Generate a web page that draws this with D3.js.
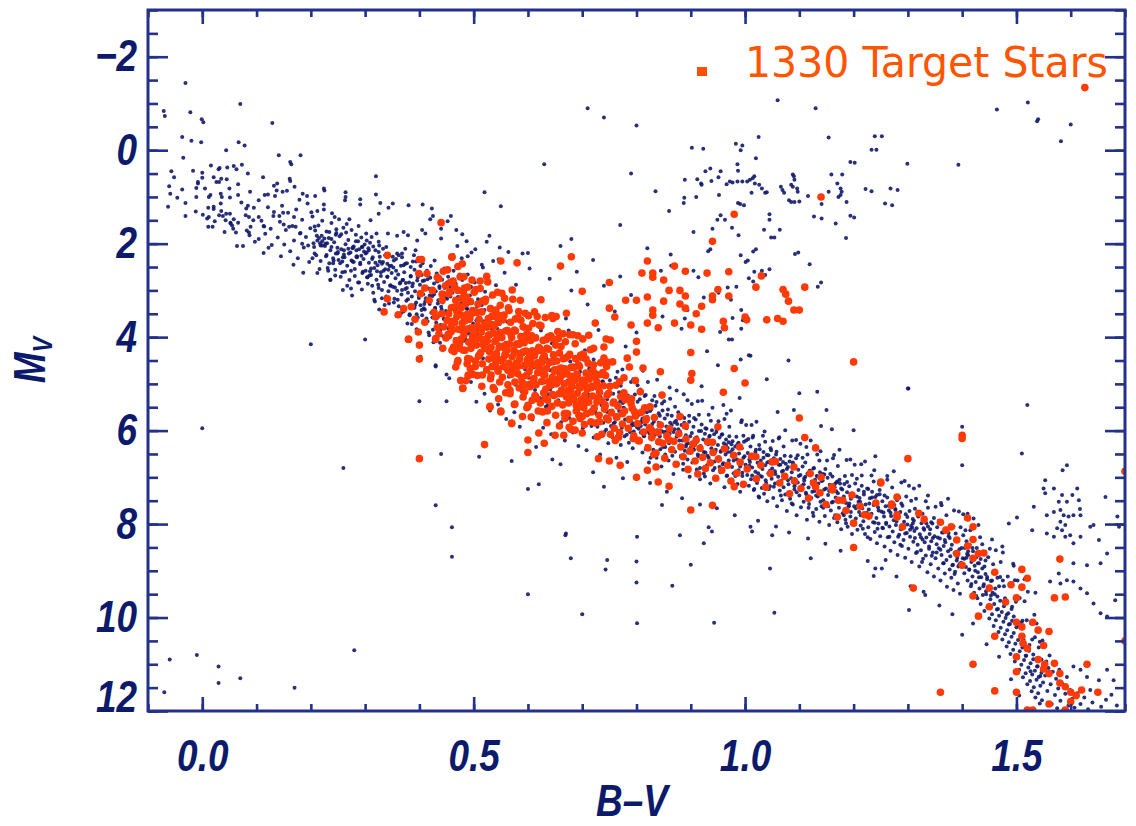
<!DOCTYPE html>
<html>
<head>
<meta charset="utf-8">
<script src="https://cdn.jsdelivr.net/npm/d3@7"></script>
<style>
  body { margin: 0; background: #fff; }
</style>
</head>
<body>
<svg id="chart" width="1136" height="826"></svg>
<script>
// ---- data: [B-V, Mv] pairs ----

// ticks
var xMajorTicks = [0.0, 0.5, 1.0, 1.5];
var yMajorTicks = [-2, 0, 2, 4, 6, 8, 10, 12];
var legendLabel = "1330 Target Stars";

// hot upper main sequence, B-V < 0.2
var blueHot = [[-0.031,-1.44],[-0.071,-0.84],[-0.069,-0.73],[-0.022,-0.81],[-0.001,-0.66],[0.002,-0.6],[0.07,-0.99],[0.129,-0.58],[-0.037,-0.28],[-0.02,-0.2],[-0.002,-0.17],[0.044,0.0],[0.067,-0.17],[0.078,-0.1],[-0.035,0.16],[0.141,0.11],[0.162,0.25],[0.164,0.3],[0.181,0.11],[-0.057,0.45],[-0.017,0.44],[0.0,0.48],[0.032,0.38],[0.03,0.41],[0.046,0.37],[0.058,0.34],[0.063,0.41],[0.073,0.31],[0.084,0.5],[0.0,0.59],[-0.008,0.68],[0.021,0.58],[0.035,0.61],[0.026,0.68],[-0.061,0.77],[-0.059,0.93],[-0.037,0.84],[-0.011,0.81],[-0.008,0.71],[0.05,0.82],[-0.063,1.21],[-0.031,1.13],[-0.031,1.41],[-0.011,1.0],[0.012,1.0],[0.015,0.96],[0.034,0.93],[0.036,1.0],[0.051,1.01],[0.066,0.96],[0.011,1.23],[0.021,1.26],[0.001,1.38],[0.009,1.46],[0.011,1.64],[0.019,1.64],[0.034,1.14],[0.035,1.3],[0.038,1.41],[0.051,1.36],[0.052,1.55],[0.058,1.48],[0.062,1.76],[0.041,1.75],[0.064,2.05],[0.075,2.05],[0.08,1.39],[0.084,1.19],[0.081,1.25],[0.094,1.5],[0.104,1.9],[0.113,1.62],[0.086,1.76],[0.087,1.82],[0.113,2.2],[0.122,2.09],[0.115,0.96],[0.121,0.95],[0.132,0.76],[0.137,0.86],[0.148,0.89],[0.161,0.61],[0.162,0.66],[0.17,0.78],[0.185,0.93],[0.193,0.98],[0.208,0.98],[0.225,0.86],[0.224,0.82],[0.264,0.9],[0.264,1.0],[0.263,1.07],[0.291,1.05],[0.291,1.16],[0.32,0.56],[0.32,0.95],[0.328,1.13],[0.343,1.23],[0.351,1.14],[0.325,1.36],[0.38,1.18],[0.406,1.16],[0.423,1.25],[0.425,1.41],[0.42,1.48],[0.458,1.41],[0.44,1.68],[0.44,1.89],[0.479,1.8],[0.31,1.5],[0.325,1.96],[0.303,1.93],[0.294,2.07],[0.277,2.1],[0.284,2.14],[0.342,1.78],[0.359,1.83],[0.371,1.75],[0.379,1.82],[0.396,1.93],[0.405,1.71],[0.411,1.78],[0.259,2.99],[0.236,2.78],
[0.021,1.21],[0.012,1.43],[0.031,1.39],[0.044,1.36],[0.052,1.57],[0.055,1.61],[0.066,1.55],[0.043,1.5],[0.086,1.43],[0.089,1.64],[0.104,1.43],[0.114,1.63],[0.132,1.32],[0.142,1.41],[0.149,1.34],[0.15,1.59],[0.16,1.64],[0.169,1.43],[0.172,1.64],[0.181,1.77],[0.184,2.0],[0.195,2.04],
[0.121,1.22],[0.126,1.68],[0.131,1.41],[0.134,0.98],[0.139,1.87],[0.143,1.53],[0.147,1.19],[0.151,2.02],[0.154,1.71],[0.158,1.34],[0.162,2.16],[0.166,1.62],[0.169,1.93],[0.173,1.27],[0.176,2.31],[0.18,1.78],[0.184,1.49],[0.187,2.08],[0.191,1.86],[0.194,1.14],[0.197,2.39],[0.199,1.67],[0.128,2.03],[0.145,2.27],[0.168,2.45],[0.186,2.62],[0.104,1.07],[0.109,1.51],[0.116,1.79],[0.095,1.23],[0.088,0.89],[0.072,1.12],[0.066,0.73],[0.057,1.68],[0.045,0.62],[0.023,1.52],[0.016,0.33],[-0.012,1.31],[-0.046,1.02],[-0.052,0.58],[0.005,0.82],[0.031,0.68],[0.082,1.72],[0.097,1.96],[0.138,0.71],[0.156,0.87],[0.179,1.06],[0.112,0.58]];

// upper main sequence, 0.2 - 0.45
var blueUpperMS = [[0.206,2.07],[0.212,1.93],[0.221,2.04],[0.23,1.99],[0.238,2.07],[0.246,2.21],[0.25,2.18],[0.261,2.14],[0.27,2.21],[0.275,2.36],[0.285,2.29],[0.295,2.07],[0.301,2.21],[0.307,2.14],[0.314,2.29],[0.325,2.18],[0.331,2.43],[0.341,2.43],[0.353,2.36],[0.359,2.21],[0.368,2.29],[0.374,2.43],[0.384,2.5],[0.39,2.25],[0.393,2.14],
[0.203,1.42],[0.207,2.21],[0.211,1.83],[0.214,1.61],[0.218,2.37],[0.221,1.95],[0.224,1.27],[0.226,2.05],[0.229,1.74],[0.231,2.52],[0.233,1.88],[0.236,2.14],[0.238,1.56],[0.241,2.31],[0.243,1.97],[0.245,2.68],[0.247,1.69],[0.249,2.09],[0.212,2.63],[0.239,1.35],[0.217,1.99],[0.234,2.42],[0.246,1.81],[0.208,1.72],[0.228,2.27],
[0.251,2.35],[0.253,1.84],[0.256,2.12],[0.258,2.61],[0.26,1.66],[0.262,2.29],[0.264,2.01],[0.267,2.47],[0.269,1.92],[0.271,2.78],[0.273,2.19],[0.275,1.71],[0.277,2.38],[0.279,2.06],[0.281,2.54],[0.283,1.95],[0.285,2.27],[0.287,2.83],[0.289,2.12],[0.291,2.44],[0.293,1.87],[0.295,2.63],[0.297,2.33],[0.299,2.02],[0.255,2.71],[0.266,1.58],[0.274,2.96],[0.288,1.62],
[0.301,2.58],[0.303,2.19],[0.305,2.86],[0.307,2.41],[0.309,1.98],[0.311,2.67],[0.313,2.33],[0.315,3.05],[0.317,2.52],[0.319,2.14],[0.321,2.77],[0.323,2.46],[0.325,2.95],[0.327,2.28],[0.329,2.61],[0.331,3.17],[0.333,2.39],[0.335,2.82],[0.337,2.55],[0.339,2.07],[0.341,2.71],[0.343,3.02],[0.345,2.48],[0.347,2.89],[0.349,2.63],[0.304,2.72],[0.312,1.86],[0.318,3.24],[0.326,2.04],[0.336,3.31],[0.344,2.24],[0.322,2.59],
[0.351,2.92],[0.352,2.51],[0.354,3.18],[0.356,2.74],[0.357,2.33],[0.359,3.01],[0.361,2.66],[0.362,3.34],[0.364,2.85],[0.366,2.47],[0.367,3.09],[0.369,2.78],[0.371,3.45],[0.372,2.61],[0.374,2.97],[0.376,3.22],[0.377,2.42],[0.379,3.05],[0.381,2.83],[0.382,3.51],[0.384,2.69],[0.386,3.13],[0.387,2.91],[0.389,3.37],[0.391,2.56],[0.392,3.02],[0.394,3.26],[0.396,2.79],[0.397,3.58],[0.399,3.11],[0.358,3.55],[0.368,2.21],[0.378,3.71],[0.388,2.38],[0.395,3.83],
[0.401,2.88],[0.402,3.32],[0.404,2.67],[0.405,3.53],[0.407,3.08],[0.409,2.79],[0.41,3.41],[0.412,3.17],[0.414,2.58],[0.415,3.66],[0.417,2.96],[0.419,3.29],[0.42,2.73],[0.422,3.48],[0.424,3.12],[0.425,3.84],[0.427,2.85],[0.429,3.37],[0.43,3.02],[0.432,2.64],[0.434,3.57],[0.435,3.21],[0.437,2.91],[0.439,3.74],[0.44,3.35],[0.442,2.77],[0.444,3.08],[0.445,3.61],[0.447,2.95],[0.449,3.44],[0.406,2.42],[0.418,3.96],[0.428,2.36],[0.438,4.12],[0.446,2.53]];

// turnoff region, 0.45 - 0.6
var blueTurnoff = [[0.451,3.18],[0.453,2.71],[0.455,3.46],[0.457,2.94],[0.459,3.72],[0.461,3.05],[0.463,2.58],[0.465,3.33],[0.467,2.86],[0.469,3.61],[0.471,3.14],[0.473,2.49],[0.475,3.88],[0.477,3.27],[0.479,2.78],[0.481,3.52],[0.483,3.01],[0.485,4.05],[0.487,3.38],[0.489,2.66],[0.491,3.79],[0.493,3.11],[0.495,2.92],[0.497,4.21],[0.499,3.47],[0.502,2.83],[0.505,3.64],[0.508,3.19],[0.511,4.33],[0.514,2.97],[0.517,3.85],[0.52,3.42],[0.523,2.74],[0.526,4.08],[0.529,3.56],[0.532,3.13],[0.535,4.47],[0.538,3.71],[0.541,2.89],[0.544,4.26],[0.547,3.35],[0.55,3.94],[0.553,4.61],[0.556,3.18],[0.559,4.12],[0.562,3.67],[0.565,4.85],[0.568,3.43],[0.571,4.38],[0.574,3.91],[0.577,5.02],[0.58,3.58],[0.583,4.54],[0.586,4.1],[0.589,5.17],[0.592,3.82],[0.595,4.69],[0.598,4.27],[0.462,2.24],[0.478,2.31],[0.496,2.19],[0.515,2.45],[0.536,2.37],[0.557,2.62],[0.578,2.88],[0.524,1.96],[0.548,2.08],[0.603,2.53],[0.59,2.21],
[0.402,4.42],[0.43,4.63],[0.455,4.88],[0.48,5.12],[0.505,5.38],[0.53,5.57],[0.56,5.75],[0.585,5.92],[0.47,4.55],[0.495,4.96],[0.52,5.21],[0.545,5.44],[0.575,5.61],
[0.452,1.52],[0.468,1.71],[0.487,1.95],[0.503,2.12],[0.529,1.83],[0.546,2.34],[0.564,2.18],[0.489,2.27],[0.517,2.51],[0.47,2.05],
[0.66,2.05],[0.69,2.6],[0.72,2.35],[0.74,2.9],[0.77,2.7],[0.79,3.1],[0.71,3.3],[0.68,3.0],[0.64,2.75],[0.62,3.2],[0.76,3.45],[0.73,3.85],[0.67,3.6],[0.7,4.0],[0.78,4.2],[0.8,3.9]];

// main sequence, 0.6 - 1.0
var blueMidMS = [[0.601,4.87],[0.603,5.42],[0.606,4.31],[0.608,5.76],[0.611,4.65],[0.613,5.13],[0.616,3.98],[0.618,5.58],[0.621,4.79],[0.623,5.31],[0.626,4.42],[0.628,5.94],[0.631,4.97],[0.633,5.49],[0.636,4.23],[0.638,5.22],[0.641,4.71],[0.643,6.08],[0.646,5.05],[0.648,4.56],[0.651,5.67],[0.653,4.89],[0.656,5.35],[0.658,4.37],[0.661,5.82],[0.663,5.14],[0.666,4.68],[0.668,6.21],[0.671,5.41],[0.673,4.93],[0.676,5.73],[0.678,4.52],[0.681,5.26],[0.683,6.04],[0.686,4.81],[0.688,5.57],[0.691,5.09],[0.693,6.33],[0.696,4.74],[0.698,5.48],[0.701,5.95],[0.703,4.98],[0.706,5.36],[0.708,6.42],[0.711,5.13],[0.713,4.67],[0.716,5.81],[0.718,5.29],[0.721,6.15],[0.723,4.89],[0.726,5.64],[0.728,5.92],[0.731,5.21],[0.733,6.51],[0.736,5.46],[0.738,4.95],[0.741,6.03],[0.743,5.72],[0.746,5.33],[0.748,6.27],[0.751,5.58],[0.753,5.08],[0.756,6.14],[0.758,5.85],[0.761,5.37],[0.763,6.58],[0.766,5.69],[0.768,5.18],[0.771,6.31],[0.773,5.94],[0.776,5.51],[0.778,6.12],[0.781,5.27],[0.783,6.67],[0.786,5.79],[0.788,6.03],[0.791,5.43],[0.793,6.38],[0.796,5.88],[0.798,5.61],[0.615,6.35],[0.645,6.62],[0.675,3.86],[0.705,4.28],[0.735,4.51],[0.765,4.74],[0.79,4.96],[0.66,6.72],[0.72,6.89],[0.775,7.02],
[0.801,5.93],[0.802,5.38],[0.804,6.21],[0.805,5.66],[0.807,5.12],[0.808,6.04],[0.81,5.79],[0.811,6.47],[0.813,5.51],[0.814,6.12],[0.816,5.87],[0.817,5.24],[0.819,6.33],[0.82,5.71],[0.822,6.02],[0.823,6.68],[0.825,5.58],[0.826,6.15],[0.828,5.93],[0.829,5.35],[0.831,6.41],[0.832,5.81],[0.834,6.09],[0.835,5.47],[0.837,6.58],[0.838,5.99],[0.84,6.26],[0.841,5.63],[0.843,6.12],[0.844,5.89],[0.846,6.77],[0.847,5.42],[0.849,6.35],[0.85,6.03],[0.852,5.74],[0.853,6.51],[0.855,5.91],[0.856,6.18],[0.858,5.55],[0.859,6.64],[0.861,6.07],[0.862,5.83],[0.864,6.39],[0.865,5.68],[0.867,6.24],[0.868,6.93],[0.87,5.97],[0.871,6.45],[0.873,5.79],[0.874,6.13],[0.876,6.71],[0.877,5.61],[0.879,6.32],[0.88,6.02],[0.882,6.56],[0.883,5.88],[0.885,6.21],[0.886,6.84],[0.888,5.73],[0.889,6.43],[0.891,6.1],[0.892,5.95],[0.894,6.62],[0.895,6.27],[0.897,5.81],[0.898,6.99],[0.9,6.36],[0.902,6.05],[0.903,6.68],[0.905,5.92],[0.906,6.41],[0.908,6.17],[0.909,5.76],[0.911,6.83],[0.912,6.24],[0.914,6.55],[0.915,6.01],[0.917,7.04],[0.918,6.33],[0.92,5.87],[0.921,6.61],[0.923,6.19],[0.924,6.92],[0.926,6.07],[0.927,6.47],[0.929,5.96],[0.93,6.74],[0.932,6.29],[0.933,6.58],[0.935,6.11],[0.936,7.13],[0.938,6.38],[0.939,5.99],[0.941,6.85],[0.942,6.22],[0.944,6.66],[0.945,6.44],[0.947,6.03],[0.948,7.02],[0.95,6.31],[0.952,6.57],[0.953,6.15],[0.955,6.89],[0.956,6.43],[0.958,6.08],[0.959,6.72],[0.961,6.27],[0.962,7.21],[0.964,6.51],[0.965,6.19],[0.967,6.96],[0.968,6.37],[0.97,6.64],[0.971,6.12],[0.973,7.08],[0.974,6.46],[0.976,6.78],[0.977,6.23],[0.979,6.91],[0.98,6.55],[0.982,6.34],[0.983,7.17],[0.985,6.62],[0.986,6.29],[0.988,6.85],[0.989,6.49],[0.991,7.31],[0.992,6.71],[0.994,6.38],[0.995,6.97],[0.997,6.58],[0.998,6.24],
[0.812,4.72],[0.838,4.91],[0.861,5.08],[0.887,5.22],[0.913,5.37],[0.94,5.51],[0.966,5.64],[0.993,5.82],[0.825,7.12],[0.856,7.31],[0.884,7.45],[0.917,7.58],[0.948,7.66],[0.981,7.81]];

// main sequence, 1.0 - 1.4
var blueLowerMS = [[1.001,6.73],[1.002,6.21],[1.004,6.95],[1.005,6.48],[1.007,7.18],[1.008,6.62],[1.01,6.34],[1.011,7.04],[1.013,6.79],[1.014,6.15],[1.016,7.27],[1.017,6.56],[1.019,6.88],[1.02,6.41],[1.022,7.12],[1.023,6.69],[1.025,7.41],[1.026,6.31],[1.028,6.97],[1.029,6.64],[1.031,7.23],[1.032,6.82],[1.034,6.46],[1.035,7.35],[1.037,6.74],[1.038,7.06],[1.04,6.52],[1.041,7.51],[1.043,6.91],[1.044,6.67],[1.046,7.19],[1.047,6.38],[1.049,7.03],[1.05,6.81],[1.052,7.44],[1.053,6.59],[1.055,7.13],[1.056,6.93],[1.058,6.45],[1.059,7.62],[1.061,6.99],[1.062,6.73],[1.064,7.28],[1.065,6.61],[1.067,7.08],[1.068,7.49],[1.07,6.86],[1.071,7.21],[1.073,6.54],[1.074,7.37],[1.076,6.97],[1.077,7.72],[1.079,6.78],[1.08,7.15],[1.082,6.66],[1.083,7.46],[1.085,7.02],[1.086,6.89],[1.088,7.58],[1.089,6.72],[1.091,7.26],[1.092,7.04],[1.094,6.59],[1.095,7.81],[1.097,7.11],[1.098,6.84],[1.1,7.39],[1.102,6.95],[1.103,7.64],[1.105,7.18],[1.106,6.77],[1.108,7.52],[1.109,7.02],[1.111,6.68],[1.112,7.33],[1.114,7.91],[1.115,6.92],[1.117,7.22],[1.118,7.57],[1.12,6.86],[1.122,7.44],[1.123,7.09],[1.125,7.76],[1.126,6.81],[1.128,7.29],[1.129,7.05],[1.131,7.68],[1.132,6.97],[1.134,7.41],[1.135,7.13],[1.137,7.95],[1.138,6.89],[1.14,7.36],[1.141,7.62],[1.143,7.07],[1.144,7.49],[1.146,6.94],[1.147,7.83],[1.149,7.24],[1.15,7.56],[1.152,7.01],[1.153,7.38],[1.155,8.02],[1.156,7.16],[1.158,7.71],[1.159,7.29],[1.161,6.98],[1.162,7.52],[1.164,7.87],[1.165,7.21],[1.167,7.43],[1.168,7.11],[1.17,7.96],[1.171,7.34],[1.173,7.65],[1.174,7.05],[1.176,7.48],[1.177,8.11],[1.179,7.26],[1.18,7.77],[1.182,7.41],[1.183,7.14],[1.185,7.91],[1.186,7.55],[1.188,7.32],[1.189,8.06],[1.191,7.62],[1.192,7.19],[1.194,7.84],[1.195,7.46],[1.197,8.21],[1.198,7.37],
[1.012,5.88],[1.036,6.02],[1.063,6.14],[1.087,6.21],[1.113,6.35],[1.139,6.44],[1.164,6.52],[1.187,6.63],[1.024,7.93],[1.057,8.05],[1.081,8.18],[1.116,8.31],[1.148,8.42],[1.176,8.57],
[1.201,7.62],[1.203,7.13],[1.204,7.88],[1.206,7.41],[1.207,8.12],[1.209,7.27],[1.21,7.74],[1.212,7.52],[1.213,8.03],[1.215,7.18],[1.216,7.66],[1.218,7.94],[1.219,7.37],[1.221,8.21],[1.222,7.58],[1.224,7.81],[1.225,7.24],[1.227,8.07],[1.228,7.69],[1.23,7.45],[1.231,8.32],[1.233,7.78],[1.234,7.31],[1.236,7.96],[1.237,7.59],[1.239,8.17],[1.24,7.42],[1.242,7.87],[1.243,8.41],[1.245,7.64],[1.246,7.99],[1.248,7.36],[1.249,8.26],[1.251,7.73],[1.253,7.51],[1.254,8.09],[1.256,7.84],[1.257,8.48],[1.259,7.62],[1.26,7.97],[1.262,7.43],[1.263,8.28],[1.265,7.71],[1.266,8.05],[1.268,8.57],[1.269,7.83],[1.271,7.56],[1.272,8.16],[1.274,7.92],[1.275,8.39],[1.277,7.68],[1.278,8.02],[1.28,7.49],[1.281,8.66],[1.283,7.86],[1.284,8.23],[1.286,7.74],[1.287,8.11],[1.289,8.47],[1.29,7.61],[1.292,8.34],[1.293,7.95],[1.295,8.72],[1.296,7.79],[1.298,8.19],[1.299,8.01],[1.301,8.53],[1.303,7.72],[1.304,8.27],[1.306,8.04],[1.307,8.81],[1.309,7.89],[1.31,8.38],[1.312,8.15],[1.313,7.67],[1.315,8.62],[1.316,8.09],[1.318,8.44],[1.319,7.84],[1.321,8.91],[1.322,8.22],[1.324,8.56],[1.325,7.98],[1.327,8.33],[1.328,8.74],[1.33,8.12],[1.331,7.91],[1.333,8.67],[1.334,8.29],[1.336,9.03],[1.337,8.05],[1.339,8.48],[1.34,8.21],[1.342,8.86],[1.343,8.37],[1.345,7.99],[1.346,8.61],[1.348,9.12],[1.349,8.26],[1.351,8.73],[1.353,8.43],[1.354,8.07],[1.356,8.95],[1.357,8.52],[1.359,8.31],[1.36,9.21],[1.362,8.66],[1.363,8.18],[1.365,8.84],[1.366,8.47],[1.368,9.06],[1.369,8.39],[1.371,8.77],[1.372,9.34],[1.374,8.58],[1.375,8.26],[1.377,8.97],[1.378,8.69],[1.38,9.15],[1.381,8.44],[1.383,8.87],[1.384,9.41],[1.386,8.62],[1.387,9.02],[1.389,8.35],[1.39,8.78],[1.392,9.27],[1.393,8.91],[1.395,8.54],[1.396,9.49],[1.398,8.83],
[1.214,6.72],[1.238,6.85],[1.262,6.97],[1.288,7.11],[1.311,7.24],[1.337,7.39],[1.361,7.55],[1.385,7.71],[1.226,8.79],[1.252,8.95],[1.279,9.12],[1.305,9.33],[1.332,9.52],[1.358,9.74],[1.382,9.93]];

// more stars filling the band, 0.2 - 1.55
var blueBandFill = [[0.212,1.3],[0.241,2.42],[0.225,1.89],[0.203,2.31],[0.247,1.77],[0.218,2.04],[0.236,2.77],[0.207,1.63],[0.229,2.24],[0.244,1.43],[0.215,1.88],[0.232,2.58],[0.221,1.51],[0.249,2.21],[0.21,2.25],[0.238,1.9],[0.224,1.16],[0.205,1.99],[0.242,2.36],[0.216,2.54],[0.234,1.75],[0.227,2.0],[0.201,1.33],[0.245,2.56],[0.22,1.83],
[0.287,1.95],[0.258,2.38],[0.294,2.98],[0.269,2.11],[0.279,2.39],[0.252,1.48],[0.298,2.17],[0.263,2.6],[0.283,1.81],[0.274,2.58],[0.291,2.41],[0.256,1.8],[0.267,2.9],[0.296,2.6],[0.277,2.08],[0.261,2.23],[0.289,2.83],[0.271,1.48],[0.254,2.42],[0.284,2.28],[0.265,1.76],[0.293,2.26],[0.276,3.11],[0.259,2.29],[0.281,2.69],
[0.337,2.25],[0.308,2.68],[0.344,3.28],[0.319,2.41],[0.329,2.69],[0.302,1.78],[0.348,2.47],[0.313,2.9],[0.333,2.11],[0.324,2.88],[0.341,2.71],[0.306,2.1],[0.317,3.2],[0.346,2.9],[0.327,2.38],[0.311,2.53],[0.339,3.13],[0.321,1.78],[0.304,2.72],[0.334,2.58],[0.315,2.06],[0.343,2.56],[0.326,3.41],[0.309,2.59],[0.331,2.99],
[0.362,2.25],[0.391,3.37],[0.375,2.84],[0.353,3.26],[0.397,2.72],[0.368,2.99],[0.386,3.72],[0.357,2.58],[0.379,3.19],[0.394,2.38],[0.365,2.83],[0.382,3.53],[0.371,2.46],[0.399,3.16],[0.36,3.2],[0.388,2.85],[0.374,2.11],[0.355,2.94],[0.392,3.31],[0.366,3.49],[0.384,2.7],[0.377,2.95],[0.351,2.28],[0.395,3.51],[0.37,2.78],
[0.437,2.95],[0.408,3.38],[0.444,3.98],[0.419,3.11],[0.429,3.39],[0.402,2.48],[0.448,3.17],[0.413,3.6],[0.433,2.81],[0.424,3.58],[0.441,3.41],[0.406,2.8],[0.417,3.9],[0.446,3.6],[0.427,3.08],[0.411,3.23],[0.439,3.83],[0.421,2.48],[0.404,3.42],[0.434,3.28],[0.415,2.76],[0.443,3.26],[0.426,4.11],[0.409,3.29],[0.431,3.69],
[0.462,2.8],[0.491,3.92],[0.475,3.39],[0.453,3.81],[0.497,3.27],[0.468,3.54],[0.486,4.27],[0.457,3.13],[0.479,3.74],[0.494,2.93],[0.465,3.38],[0.482,4.08],[0.471,3.01],[0.499,3.71],[0.46,3.75],[0.488,3.4],[0.474,2.66],[0.455,3.49],[0.492,3.86],[0.466,4.04],[0.484,3.25],[0.477,3.5],[0.451,2.83],[0.495,4.06],[0.47,3.33],
[0.537,3.5],[0.508,3.93],[0.544,4.53],[0.519,3.66],[0.529,3.94],[0.502,3.03],[0.548,3.72],[0.513,4.15],[0.533,3.36],[0.524,4.13],[0.541,3.96],[0.506,3.35],[0.517,4.45],[0.546,4.15],[0.527,3.63],[0.511,3.78],[0.539,4.38],[0.521,3.03],[0.504,3.97],[0.534,3.83],[0.515,3.31],[0.543,3.81],[0.526,4.66],[0.509,3.84],[0.531,4.24],
[0.612,4.0],[0.641,5.12],[0.625,4.59],[0.603,5.01],[0.647,4.47],[0.618,4.74],[0.636,5.47],[0.607,4.33],[0.629,4.94],[0.644,4.13],[0.615,4.58],[0.632,5.28],[0.621,4.21],[0.649,4.91],[0.61,4.95],[0.638,4.6],[0.624,3.86],[0.605,4.69],[0.642,5.06],[0.616,5.24],[0.634,4.45],[0.627,4.7],[0.601,4.03],[0.645,5.26],[0.62,4.53],
[0.737,4.95],[0.708,5.38],[0.744,5.98],[0.719,5.11],[0.729,5.39],[0.702,4.48],[0.748,5.17],[0.713,5.6],[0.733,4.81],[0.724,5.58],[0.741,5.41],[0.706,4.8],[0.717,5.9],[0.746,5.6],[0.727,5.08],[0.711,5.23],[0.739,5.83],[0.721,4.48],[0.704,5.42],[0.734,5.28],[0.715,4.76],[0.743,5.26],[0.726,6.11],[0.709,5.29],[0.731,5.69],
[0.762,4.87],[0.791,5.89],[0.775,5.41],[0.753,5.9],[0.797,5.23],[0.768,5.58],[0.786,6.26],[0.757,5.21],[0.779,5.76],[0.794,4.9],[0.765,5.43],[0.782,6.09],[0.771,5.04],[0.799,5.67],[0.76,5.82],[0.788,5.38],[0.774,4.69],[0.755,5.57],[0.792,5.84],[0.766,6.09],[0.784,5.25],[0.777,5.52],[0.751,4.92],[0.795,6.02],[0.77,5.37],
[0.837,5.39],[0.808,5.9],[0.844,6.4],[0.819,5.61],[0.829,5.86],[0.802,5.03],[0.848,5.57],[0.813,6.11],[0.833,5.26],[0.824,6.06],[0.841,5.83],[0.806,5.33],[0.817,6.4],[0.846,6.01],[0.827,5.55],[0.811,5.74],[0.839,6.27],[0.821,4.96],[0.804,5.96],[0.834,5.73],[0.815,5.26],[0.843,5.68],[0.826,6.58],[0.809,5.82],[0.831,6.14],
[0.862,5.32],[0.891,6.34],[0.875,5.86],[0.853,6.35],[0.897,5.68],[0.868,6.03],[0.886,6.71],[0.857,5.66],[0.879,6.21],[0.894,5.35],[0.865,5.88],[0.882,6.54],[0.871,5.49],[0.899,6.12],[0.86,6.27],[0.888,5.83],[0.874,5.14],[0.855,6.02],[0.892,6.29],[0.866,6.54],[0.884,5.7],[0.877,5.97],[0.851,5.37],[0.895,6.47],[0.87,5.82],
[0.937,5.79],[0.908,6.3],[0.944,6.8],[0.919,6.01],[0.929,6.26],[0.902,5.43],[0.948,5.97],[0.913,6.51],[0.933,5.66],[0.924,6.46],[0.941,6.23],[0.906,5.73],[0.917,6.8],[0.946,6.41],[0.927,5.95],[0.911,6.14],[0.939,6.67],[0.921,5.36],[0.904,6.36],[0.934,6.13],[0.915,5.66],[0.943,6.08],[0.926,6.98],[0.909,6.22],[0.931,6.54],
[0.962,5.75],[0.991,6.77],[0.975,6.29],[0.953,6.78],[0.997,6.11],[0.968,6.46],[0.986,7.14],[0.957,6.09],[0.979,6.64],[0.994,5.78],[0.965,6.31],[0.982,6.97],[0.971,5.92],[0.999,6.55],[0.96,6.7],[0.988,6.26],[0.974,5.57],[0.955,6.45],[0.992,6.72],[0.966,6.97],[0.984,6.13],[0.977,6.4],[0.951,5.8],[0.995,6.9],[0.97,6.25],
[1.037,6.24],[1.008,6.75],[1.044,7.25],[1.019,6.46],[1.029,6.71],[1.002,5.88],[1.048,6.42],[1.013,6.96],[1.033,6.11],[1.024,6.91],[1.041,6.68],[1.006,6.18],[1.017,7.25],[1.046,6.86],[1.027,6.4],[1.011,6.59],[1.039,7.12],[1.021,5.81],[1.004,6.81],[1.034,6.58],[1.015,6.11],[1.043,6.53],[1.026,7.43],[1.009,6.67],[1.031,6.99],
[1.062,6.17],[1.091,7.19],[1.075,6.71],[1.053,7.2],[1.097,6.53],[1.068,6.88],[1.086,7.56],[1.057,6.51],[1.079,7.06],[1.094,6.2],[1.065,6.73],[1.082,7.39],[1.071,6.34],[1.099,6.97],[1.06,7.12],[1.088,6.68],[1.074,5.99],[1.055,6.87],[1.092,7.14],[1.066,7.39],[1.084,6.55],[1.077,6.82],[1.051,6.22],[1.095,7.32],[1.07,6.67],
[1.137,6.64],[1.108,7.15],[1.144,7.65],[1.119,6.86],[1.129,7.11],[1.102,6.28],[1.148,6.82],[1.113,7.36],[1.133,6.51],[1.124,7.31],[1.141,7.08],[1.106,6.58],[1.117,7.65],[1.146,7.26],[1.127,6.8],[1.111,6.99],[1.139,7.52],[1.121,6.21],[1.104,7.21],[1.134,6.98],[1.115,6.51],[1.143,6.93],[1.126,7.83],[1.109,7.07],[1.131,7.39],
[1.162,6.59],[1.191,7.61],[1.175,7.13],[1.153,7.62],[1.197,6.95],[1.168,7.3],[1.186,7.98],[1.157,6.93],[1.179,7.48],[1.194,6.62],[1.165,7.15],[1.182,7.81],[1.171,6.76],[1.199,7.39],[1.16,7.54],[1.188,7.1],[1.174,6.41],[1.155,7.29],[1.192,7.56],[1.166,7.81],[1.184,6.97],[1.177,7.24],[1.151,6.64],[1.195,7.74],[1.17,7.09],
[1.237,7.09],[1.208,7.6],[1.244,8.1],[1.219,7.31],[1.229,7.56],[1.202,6.73],[1.248,7.27],[1.213,7.81],[1.233,6.96],[1.224,7.76],[1.241,7.53],[1.206,7.03],[1.217,8.1],[1.246,7.71],[1.227,7.25],[1.211,7.44],[1.239,7.97],[1.221,6.66],[1.204,7.66],[1.234,7.43],[1.215,6.96],[1.243,7.38],[1.226,8.28],[1.209,7.52],[1.231,7.84],
[1.262,7.05],[1.291,8.07],[1.275,7.59],[1.253,8.08],[1.297,7.41],[1.268,7.76],[1.286,8.44],[1.257,7.39],[1.279,7.94],[1.294,7.08],[1.265,7.61],[1.282,8.27],[1.271,7.22],[1.299,7.85],[1.26,8.0],[1.288,7.56],[1.274,6.87],[1.255,7.75],[1.292,8.02],[1.266,8.27],[1.284,7.43],[1.277,7.7],[1.251,7.1],[1.295,8.2],[1.27,7.55],
[1.337,7.65],[1.308,8.08],[1.344,8.68],[1.319,7.81],[1.329,8.09],[1.302,7.18],[1.348,7.87],[1.313,8.3],[1.333,7.51],[1.324,8.28],[1.341,8.11],[1.306,7.5],[1.317,8.6],[1.346,8.3],[1.327,7.78],[1.311,7.93],[1.339,8.53],[1.321,7.18],[1.304,8.12],[1.334,7.98],[1.315,7.46],[1.343,7.96],[1.326,8.81],[1.309,7.99],[1.331,8.39],
[1.362,7.6],[1.391,8.72],[1.375,8.19],[1.353,8.61],[1.397,8.07],[1.368,8.34],[1.386,9.07],[1.357,7.93],[1.379,8.54],[1.394,7.73],[1.365,8.18],[1.382,8.88],[1.371,7.81],[1.399,8.51],[1.36,8.55],[1.388,8.2],[1.374,7.46],[1.355,8.29],[1.392,8.66],[1.366,8.84],[1.384,8.05],[1.377,8.3],[1.351,7.63],[1.395,8.86],[1.37,8.13],
[1.437,8.43],[1.408,8.72],[1.444,9.5],[1.419,8.51],[1.429,8.84],[1.402,7.79],[1.448,8.71],[1.413,8.97],[1.433,8.28],[1.424,9.0],[1.441,8.91],[1.406,8.13],[1.417,9.28],[1.446,9.13],[1.427,8.51],[1.411,8.58],[1.439,9.33],[1.421,7.88],[1.404,8.74],[1.434,8.75],[1.415,8.13],[1.443,8.78],[1.426,9.54],[1.409,8.64],[1.431,9.14],
[1.462,8.56],[1.491,9.82],[1.475,9.21],[1.453,9.53],[1.497,9.2],[1.468,9.33],[1.486,10.15],[1.457,8.86],[1.479,9.59],[1.494,8.85],[1.465,9.15],[1.482,9.94],[1.471,8.81],[1.499,9.66],[1.46,9.5],[1.488,9.29],[1.474,8.48],[1.455,9.21],[1.492,9.77],[1.466,9.82],[1.484,9.12],[1.477,9.33],[1.451,8.53],[1.495,9.98],[1.47,9.13],
[1.537,10.13],[1.508,10.18],[1.544,11.25],[1.519,10.06],[1.529,10.47],[1.502,9.21],[1.548,10.49],[1.513,10.47],[1.533,9.94],[1.524,10.59],[1.541,10.64],[1.506,9.58],[1.517,10.82],[1.546,10.9],[1.527,10.13],[1.511,10.07],[1.539,11.04],[1.521,9.45],[1.504,10.17],[1.534,10.42],[1.515,9.65],[1.543,10.52],[1.526,11.15],[1.509,10.11],[1.531,10.79]];

// faint red end, B-V > 1.4, and the pocket off the sequence
var blueRedEnd = [[1.401,8.73],[1.402,8.24],[1.404,9.05],[1.405,8.51],[1.407,8.92],[1.408,8.37],[1.41,9.21],[1.411,8.66],[1.413,8.98],[1.414,8.45],[1.416,9.33],[1.417,8.81],[1.419,9.12],[1.42,8.58],[1.422,9.47],[1.423,8.89],[1.425,9.24],[1.426,8.71],[1.428,9.59],[1.429,9.03],[1.431,8.84],[1.432,9.38],[1.434,9.71],[1.435,9.14],[1.437,8.95],[1.438,9.52],[1.44,9.29],[1.441,9.86],[1.443,9.07],[1.444,9.44],[1.446,9.18],[1.447,9.78],[1.449,9.34],[1.45,10.02],[1.452,9.61],[1.453,9.22],[1.455,9.93],[1.456,9.47],[1.458,10.18],[1.459,9.71],[1.461,9.38],[1.462,10.06],[1.464,9.83],[1.465,9.55],[1.467,10.31],[1.468,9.96],[1.47,9.64],[1.471,10.22],[1.473,9.88],[1.474,10.47],[1.476,10.09],[1.477,9.76],[1.479,10.36],[1.48,10.01],[1.482,10.62],[1.483,10.27],[1.485,9.91],[1.486,10.53],[1.488,10.14],[1.489,10.78],[1.491,10.41],[1.492,10.07],[1.494,10.69],[1.495,10.33],[1.497,10.94],[1.498,10.56],[1.5,10.21],[1.502,10.87],[1.503,10.48],[1.505,11.12],[1.506,10.72],[1.508,10.39],[1.509,11.01],[1.511,10.64],[1.512,11.28],[1.514,10.91],[1.515,10.55],[1.517,11.19],[1.518,10.82],[1.52,11.43],[1.522,11.07],[1.523,10.71],[1.525,11.36],[1.526,10.98],[1.528,11.58],[1.529,11.22],[1.531,10.89],[1.532,11.49],[1.534,11.14],[1.535,11.71],[1.537,11.33],[1.538,11.05],[1.54,11.62],[1.541,11.27],[1.543,11.84],[1.544,11.46],[1.546,11.18],[1.547,11.77],[1.549,11.39],
[1.41,7.78],[1.43,8.02],[1.455,8.33],[1.475,8.61],[1.495,8.89],[1.515,9.18],[1.535,9.47],[1.42,10.13],[1.445,10.57],[1.468,10.84],[1.49,11.32],[1.505,11.67],
[1.551,10.62],[1.553,11.24],[1.555,10.94],[1.557,11.57],[1.559,11.08],[1.561,10.81],[1.563,11.43],[1.565,11.85],[1.567,11.16],[1.569,10.97],[1.571,11.66],[1.573,11.31],[1.575,11.94],[1.577,11.52],[1.579,11.12],[1.581,11.78],[1.584,11.41],[1.587,11.96],[1.59,11.63],[1.593,11.27],[1.596,11.88],[1.599,11.55],[1.603,11.74],[1.607,11.93],[1.612,11.62],[1.618,11.85],[1.625,11.71],[1.632,11.96],[1.64,11.82],[1.648,11.58],[1.656,11.91],[1.665,11.76],[1.675,11.65],[1.685,11.88],
[1.553,7.06],[1.55,7.24],[1.553,7.34],[1.569,7.24],[1.584,7.38],[1.603,7.38],[1.612,7.24],[1.615,7.49],[1.593,7.52],[1.578,7.52],[1.556,7.81],[1.569,7.74],[1.581,7.7],[1.587,7.81],[1.596,7.84],[1.605,7.81],[1.618,7.81],[1.581,7.95],[1.59,8.02],[1.584,8.13],[1.575,8.09],[1.556,8.2],[1.569,8.27],[1.59,8.27],[1.599,8.24],[1.605,8.41],[1.618,8.27],[1.636,8.06],[1.642,8.02],[1.652,8.34],[1.667,8.63],[1.655,8.84],[1.63,8.88],[1.605,8.84],[1.578,9.06],[1.562,9.23],[1.581,9.27],[1.593,9.2],[1.605,9.23],[1.618,9.38],[1.63,9.48],[1.642,9.7],[1.655,9.91],[1.667,9.98],[1.682,9.63],[1.679,11.34],[1.667,11.12],[1.652,11.34],[1.636,11.55],[1.63,11.27],[1.618,11.12],[1.605,11.05],[1.686,7.84],[1.689,8.06],[1.664,7.42],[1.617,7.68],[1.529,8.13],[1.532,7.63],[1.501,7.86],[1.486,7.99]];

// giant clump and subgiant branch
var blueGiants = [[0.835,0.88],[0.889,0.63],[0.912,0.62],[0.919,0.71],[0.92,0.74],[0.927,0.45],[0.936,0.39],[0.938,0.66],[0.951,0.58],[0.955,0.45],[0.966,0.73],[0.972,0.67],[0.977,0.69],[0.986,0.67],[0.995,0.67],[1.004,0.67],[1.009,0.63],[1.014,0.6],[1.017,0.56],[1.018,0.71],[1.026,0.74],[1.031,0.82],[1.012,0.91],[1.037,0.91],[1.04,0.9],[0.983,-0.14],[0.995,-0.1],[0.992,-0.0],[1.025,-0.28],[0.923,-0.03],[0.902,-0.05],[0.986,0.3],[0.987,0.44],[1.02,0.17],[0.888,1.02],[0.887,1.13],[0.91,1.0],[0.952,0.96],[0.987,1.13],[0.991,1.15],[0.998,1.18],[0.955,1.39],[0.949,1.49],[0.963,1.49],[0.976,1.66],[0.905,1.75],[0.94,1.68],[0.988,1.82],[1.035,1.7],[1.045,1.37],[1.045,1.49],[1.064,1.7],[1.048,1.87],[1.054,1.87],[0.932,2.16],[0.936,2.12],[0.992,2.25],[1.001,2.39],[1.005,2.36],[1.015,2.17],[1.02,2.12],[1.092,2.22],[1.098,2.19],[1.119,2.44],[1.134,2.92],[1.14,2.83],[1.031,2.58],[1.045,2.55],[1.037,2.67],[1.017,2.6],[1.007,2.74],[1.015,2.81],[0.984,2.92],[0.968,2.94],[0.914,2.72],[0.863,2.23],[0.864,2.47],[0.845,2.58],[0.905,2.58],[0.924,3.15],[0.951,3.05],[0.974,3.2],[0.993,3.42],[0.977,3.59],[0.961,3.82],[0.996,3.64],[0.993,3.82],[0.889,3.6],[0.894,3.42],[0.848,3.56],[0.883,3.82],
[1.088,0.52],[1.09,0.56],[1.091,0.63],[1.085,0.74],[1.088,0.78],[1.096,0.82],[1.097,0.89],[1.066,0.78],[1.069,0.85],[1.072,0.91],[1.081,1.07],[1.085,1.11],[1.091,1.11],[1.1,1.1],[1.116,0.98],[1.141,1.15],[1.154,0.89],[1.159,0.52],[1.17,0.71],[1.176,0.82],[1.178,0.89],[1.176,0.96],[1.172,1.0],[1.179,0.52],[1.187,1.11],[1.202,0.27],[1.233,0.88],[1.242,-0.01],[1.252,-0.3],[1.154,-0.27],[1.281,0.85],[1.271,1.18],[1.201,1.44],[1.186,1.88],[1.167,1.57],[1.141,1.46],[1.127,1.42],
[1.464,-0.87],[1.521,-1.02],[1.538,-0.62],[1.6,-0.55],[1.582,-0.19],[1.239,-0.3],[1.233,-0.01],[1.299,0.29],[1.393,0.31],[1.222,0.83],[1.268,0.82],[1.258,1.14],[1.194,0.25],[1.194,1.4],[1.06,-1.07],[1.13,-0.9],[1.54,-0.66],[0.8,-0.53]];

// stray stars off the sequences
var blueStray = [[-0.06,10.9],[-0.01,10.8],[0.03,11.05],[0.03,11.4],[0.07,11.3],[0.17,11.5],[-0.07,11.6],[0.28,10.7],[0.0,5.95],[0.26,6.8],[0.2,4.15],[0.3,4.05],[0.4,5.37],[0.45,5.37],[0.44,6.5],[0.51,6.56],[0.57,6.65],[0.43,7.6],[0.46,8.07],[0.46,8.7],[0.6,9.5],[0.6,7.25],[0.62,7.15],[0.67,8.2],[0.43,4.6],[0.45,4.8],
[0.669,8.24],[0.679,8.73],[0.7,9.93],[0.743,8.97],[0.746,8.77],[0.801,8.27],[0.8,8.8],[0.8,9.25],[0.801,10.12],[0.866,9.32],[0.88,8.24],[0.9,8.87],[0.924,8.41],[0.933,8.07],[0.939,8.16],[0.943,10.11],[1.01,8.06],[1.013,8.16],[1.046,8.95],[1.05,8.24],[1.054,9.9],[1.121,8.73],[1.133,5.17],[1.15,5.56],[1.2,5.99],[1.16,5.97],[1.24,6.55],[1.24,8.95],[1.237,9.11],[1.259,8.77],[0.74,7.2],[0.847,7.59],[1.09,5.56],[0.992,4.48],[1.007,4.39],[0.976,4.05],[0.954,3.89],
[1.301,5.1],[1.52,5.45],[1.4,5.92],[1.4,6.74],[1.51,6.49],[1.593,6.74],[1.585,6.85],[1.302,9.84],[1.4,10.37],[1.329,9.45],[1.3,5.1],
[0.55,1.2],[0.63,0.3],[0.71,-0.9],[0.77,1.6],[0.82,2.1],[0.68,1.9],[0.6,2.2],[0.74,-0.7],[0.86,1.3],[0.79,0.5],[0.52,0.9],
[0.93,4.3],[0.97,4.05],[1.01,4.4],[0.95,4.6],[1.04,4.9],[1.08,4.5],[1.1,5.2],[0.99,5.3],[1.06,5.6],[1.14,5.9],[0.92,5.05],[0.96,5.45]];

// target stars: dense core near the turnoff
var redCore = [[0.444,2.59],[0.448,2.90],[0.442,3.08],[0.459,3.37],[0.454,3.50],[0.451,3.64],[0.445,3.78],[0.449,4.02],[0.443,4.24],[0.457,2.83],[0.441,3.50],[0.453,3.94],
[0.475,2.71],[0.462,2.80],[0.471,3.00],[0.478,3.17],[0.467,3.21],[0.473,3.34],[0.463,3.36],[0.476,3.52],[0.469,3.56],[0.479,3.70],[0.465,3.69],[0.472,3.83],[0.461,3.85],[0.477,4.04],[0.468,4.08],[0.474,4.24],[0.464,4.31],[0.471,4.50],
[0.497,2.78],[0.489,2.93],[0.481,3.03],[0.494,3.24],[0.485,3.29],[0.499,3.48],[0.488,3.51],[0.492,3.62],[0.483,3.64],[0.496,3.80],[0.487,3.83],[0.498,3.98],[0.482,3.96],[0.491,4.11],[0.495,4.24],[0.484,4.28],[0.493,4.47],[0.488,4.57],[0.499,4.80],[0.486,4.93],
[0.512,2.80],[0.504,2.98],[0.517,3.22],[0.508,3.29],[0.515,3.46],[0.502,3.47],[0.51,3.62],[0.519,3.76],[0.506,3.76],[0.514,3.89],[0.501,3.89],[0.511,4.03],[0.518,4.17],[0.505,4.17],[0.513,4.33],[0.509,4.41],[0.516,4.57],[0.503,4.63],[0.507,4.82],[0.515,5.05],
[0.526,2.82],[0.535,3.10],[0.522,3.19],[0.531,3.39],[0.538,3.56],[0.527,3.60],[0.533,3.73],[0.523,3.75],[0.536,3.91],[0.529,3.95],[0.539,4.09],[0.525,4.08],[0.532,4.22],[0.521,4.24],[0.537,4.43],[0.528,4.47],[0.534,4.63],[0.524,4.70],[0.531,4.89],[0.538,5.12],
[0.557,3.17],[0.549,3.32],[0.541,3.42],[0.554,3.63],[0.545,3.68],[0.559,3.87],[0.548,3.90],[0.552,4.01],[0.543,4.03],[0.556,4.19],[0.547,4.22],[0.558,4.37],[0.542,4.35],[0.551,4.50],[0.555,4.63],[0.544,4.67],[0.553,4.86],[0.548,4.96],[0.559,5.19],[0.546,5.32],
[0.572,3.19],[0.564,3.37],[0.577,3.61],[0.568,3.68],[0.575,3.85],[0.562,3.86],[0.57,4.01],[0.579,4.15],[0.566,4.15],[0.574,4.28],[0.561,4.28],[0.571,4.42],[0.578,4.56],[0.565,4.56],[0.573,4.72],[0.569,4.80],[0.576,4.96],[0.563,5.02],[0.567,5.21],[0.575,5.44],
[0.586,3.21],[0.595,3.49],[0.582,3.58],[0.591,3.78],[0.598,3.95],[0.587,3.99],[0.593,4.12],[0.583,4.14],[0.596,4.30],[0.589,4.34],[0.599,4.48],[0.585,4.47],[0.592,4.61],[0.581,4.63],[0.597,4.82],[0.588,4.86],[0.594,5.02],[0.584,5.09],[0.591,5.28],[0.598,5.51],
[0.617,3.56],[0.609,3.71],[0.601,3.81],[0.614,4.02],[0.605,4.07],[0.619,4.26],[0.608,4.29],[0.612,4.40],[0.603,4.42],[0.616,4.58],[0.607,4.61],[0.618,4.76],[0.602,4.74],[0.611,4.89],[0.615,5.02],[0.604,5.06],[0.613,5.25],[0.608,5.35],[0.619,5.58],[0.606,5.71],
[0.632,3.58],[0.624,3.76],[0.637,4.00],[0.628,4.07],[0.635,4.24],[0.622,4.25],[0.63,4.40],[0.639,4.54],[0.626,4.54],[0.634,4.67],[0.621,4.67],[0.631,4.81],[0.638,4.95],[0.625,4.95],[0.633,5.11],[0.629,5.19],[0.636,5.35],[0.623,5.41],[0.627,5.60],[0.635,5.83],
[0.646,3.60],[0.655,3.88],[0.642,3.97],[0.651,4.17],[0.658,4.34],[0.647,4.38],[0.653,4.51],[0.643,4.53],[0.656,4.69],[0.649,4.73],[0.659,4.87],[0.645,4.86],[0.652,5.00],[0.641,5.02],[0.657,5.21],[0.648,5.25],[0.654,5.41],[0.644,5.48],[0.651,5.67],[0.658,5.90],
[0.677,3.95],[0.669,4.10],[0.661,4.20],[0.674,4.41],[0.665,4.46],[0.679,4.65],[0.668,4.68],[0.672,4.79],[0.663,4.81],[0.676,4.97],[0.667,5.00],[0.678,5.15],[0.662,5.13],[0.671,5.28],[0.675,5.41],[0.664,5.45],[0.673,5.64],[0.668,5.74],[0.679,5.97],[0.666,6.10],
[0.697,4.39],[0.688,4.46],[0.695,4.63],[0.682,4.64],[0.69,4.79],[0.699,4.93],[0.686,4.93],[0.694,5.06],[0.681,5.06],[0.691,5.20],[0.698,5.34],[0.685,5.34],[0.693,5.50],[0.689,5.58],[0.696,5.74],[0.683,5.80],[0.692,3.97],[0.687,5.99],
[0.702,4.36],[0.711,4.56],[0.718,4.73],[0.707,4.77],[0.713,4.90],[0.703,4.92],[0.716,5.08],[0.709,5.12],[0.719,5.26],[0.705,5.25],[0.712,5.39],[0.701,5.41],[0.717,5.60],[0.708,5.64],[0.704,5.87],[0.715,4.27],
[0.721,4.59],[0.734,4.80],[0.725,4.85],[0.739,5.04],[0.728,5.07],[0.732,5.18],[0.736,5.36],[0.727,5.39],[0.722,5.52],[0.731,5.67],[0.724,5.84],[0.728,6.13],
[0.743,4.82],[0.751,5.05],[0.746,5.24],[0.757,5.41],[0.742,5.48],[0.754,5.62],[0.748,5.77],[0.759,5.95],[0.745,4.63],[0.752,6.08],
[0.762,5.03],[0.771,5.27],[0.766,5.48],[0.778,5.58],[0.764,5.71],[0.774,5.86],[0.769,6.04],[0.777,5.19],[0.761,6.21],
[0.783,5.31],[0.792,5.52],[0.787,5.76],[0.798,5.69],[0.785,5.95],[0.795,6.11],[0.79,5.42]];

// target stars: wider spread of the same clump
var redCoreWide = [[0.487,3.14],[0.458,3.89],[0.494,4.67],[0.469,3.45],[0.479,3.84],[0.452,2.56],[0.498,3.43],[0.463,4.21],[0.483,2.95],[0.474,4.14],[0.491,3.82],[0.456,3.03],[0.467,4.64],[0.496,4.09],[0.477,3.37],[0.461,3.66],[0.489,4.46],[0.471,2.49],[0.454,3.97],[0.484,3.65],[0.465,2.93],[0.493,3.59],[0.476,4.93],[0.459,3.76],[0.481,4.28],
[0.512,2.96],[0.541,4.54],[0.525,3.79],[0.503,4.51],[0.547,3.54],[0.518,4.05],[0.536,5.08],[0.507,3.47],[0.529,4.31],[0.544,3.04],[0.515,3.81],[0.532,4.81],[0.521,3.24],[0.549,4.2],[0.51,4.39],[0.538,3.76],[0.524,2.7],[0.505,4.02],[0.542,4.45],[0.516,4.81],[0.534,3.55],[0.527,3.96],[0.501,3.04],[0.545,4.73],[0.52,3.72],
[0.587,3.64],[0.558,4.39],[0.594,5.17],[0.569,3.95],[0.579,4.34],[0.552,3.06],[0.598,3.93],[0.563,4.71],[0.583,3.45],[0.574,4.64],[0.591,4.32],[0.556,3.53],[0.567,5.14],[0.596,4.59],[0.577,3.87],[0.561,4.16],[0.589,4.96],[0.571,2.99],[0.554,4.47],[0.584,4.15],[0.565,3.43],[0.593,4.09],[0.576,5.43],[0.559,4.26],[0.581,4.78],
[0.612,3.46],[0.641,5.04],[0.625,4.29],[0.603,5.01],[0.647,4.04],[0.618,4.55],[0.636,5.58],[0.607,3.97],[0.629,4.81],[0.644,3.54],[0.615,4.31],[0.632,5.31],[0.621,3.74],[0.649,4.7],[0.61,4.89],[0.638,4.26],[0.624,3.2],[0.605,4.52],[0.642,4.95],[0.616,5.31],[0.634,4.05],[0.627,4.46],[0.601,3.54],[0.645,5.23],[0.62,4.22],
[0.687,4.14],[0.658,4.89],[0.694,5.67],[0.669,4.45],[0.679,4.84],[0.652,3.56],[0.698,4.43],[0.663,5.21],[0.683,3.95],[0.674,5.14],[0.691,4.82],[0.656,4.03],[0.667,5.64],[0.696,5.09],[0.677,4.37],[0.661,4.66],[0.689,5.46],[0.671,3.49],[0.654,4.97],[0.684,4.65],[0.665,3.93],[0.693,4.59],[0.676,5.93],[0.659,4.76],[0.681,5.28],
[0.712,3.96],[0.741,5.54],[0.725,4.79],[0.703,5.51],[0.747,4.54],[0.718,5.05],[0.736,6.08],[0.707,4.47],[0.729,5.31],[0.744,4.04],[0.715,4.81],[0.732,5.81],[0.721,4.24],[0.749,5.2],[0.71,5.39],[0.738,4.76],[0.724,3.7],[0.705,5.02],[0.742,5.45],[0.716,5.81],[0.734,4.55],[0.727,4.96],[0.701,4.04],[0.745,5.73],[0.72,4.72],
[0.787,4.64],[0.758,5.39],[0.794,6.17],[0.769,4.95],[0.779,5.34],[0.752,4.06],[0.798,4.93],[0.763,5.71],[0.783,4.45],[0.774,5.64],[0.791,5.32],[0.756,4.53],[0.767,6.14],[0.796,5.59],[0.777,4.87],
[0.812,4.66],[0.841,6.24],[0.825,5.49],[0.803,6.21],[0.847,5.24],[0.818,5.75],[0.836,6.78],[0.807,5.17],[0.829,6.01],[0.844,4.74],[0.815,5.51],[0.832,6.51]];

// target stars scattered round the core
var redHalo = [[0.4,6.6],[0.52,6.3],[0.57,5.85],[0.6,6.47],[0.6,6.2],[0.62,6.05],[0.63,6.27],[0.65,6.1],[0.53,5.5],[0.55,5.58],[0.59,5.7],[0.6,5.48],[0.38,4.05],[0.4,4.17],[0.4,4.47],[0.43,4.05],[0.46,4.28],[0.47,4.54],[0.49,4.83],[0.48,5.1],
[0.43,4.03],[0.49,4.81],[0.48,5.09],[0.53,5.48],[0.55,5.6],[0.57,5.84],[0.6,5.46],[0.67,5.63],[0.7,5.7],
[0.341,2.25],[0.404,2.34],[0.46,2.29],[0.341,3.18],[0.371,3.39],[0.361,3.52],[0.41,3.68],[0.38,4.04],[0.399,2.64],[0.414,2.64],[0.436,2.75],[0.424,3.0],[0.454,3.07],[0.442,3.21],[0.402,3.07],[0.43,3.57],[0.433,3.79],[0.479,2.43],[0.482,2.71],
[0.392,3.62],[0.385,3.35],[0.41,2.95],[0.418,3.21],[0.427,3.47],[0.433,2.72],[0.436,3.93],[0.398,3.89],[0.335,3.46],[0.44,1.55],
[0.98,4.67],[1.0,4.98],[0.96,5.18],[1.1,5.73],[1.11,6.15],[1.13,6.37],[0.9,4.33],[0.9,4.92],[0.902,4.78],[0.73,6.6],[0.75,6.65],[0.77,6.74],[0.8,7.0],[0.82,6.85],[0.84,7.1],[0.86,7.19],[0.9,7.7],[0.94,7.6],[0.98,7.2],[0.7,6.05],[1.2,4.53]];

// target stars on the subgiant and giant branches
var redGiants = [[1.14,1.0],[0.98,1.37],[0.94,1.95],[0.87,2.48],[0.89,2.59],[0.93,2.63],[0.97,2.6],[1.03,2.69],[1.11,2.93],[0.83,2.72],[0.85,2.78],[0.86,3.0],[0.88,3.0],[0.89,3.12],[0.88,3.29],[0.94,3.12],[0.95,2.98],[0.97,3.12],[1.02,2.93],[1.07,2.98],[1.075,3.08],[1.08,3.23],[1.09,3.42],[1.1,3.42],[1.0,3.57],[1.003,3.63],[1.04,3.63],[1.06,3.6],[1.07,3.66],[0.92,3.34],[0.94,3.2],[0.91,3.5],[0.96,3.66],[0.962,3.8],[0.87,3.7],[0.9,3.74],[0.92,3.83],[0.84,3.8],[0.89,3.38],[0.85,3.23],[0.83,3.53],[0.68,2.28],[0.82,2.37],[0.81,2.63],[0.83,2.63],[0.75,2.83],[0.7,3.02],[0.66,2.48],[0.58,2.41],[0.55,2.37],[0.46,2.28],[0.4,2.34],[0.78,3.21],[0.8,3.21],[0.82,3.14],[0.83,3.42],[0.75,3.38],[0.76,3.57],[0.79,3.74],[0.82,3.7],[0.8,4.09],[0.8,4.32],[0.74,4.21],[0.74,4.45],[1.626,-1.34]];

// target stars along the lower main sequence
var redTail = [[0.802,5.85],[0.805,6.22],[0.809,5.61],[0.813,6.03],[0.817,5.78],[0.821,6.37],[0.824,5.94],[0.828,6.15],[0.833,5.72],[0.836,6.48],[0.84,6.04],[0.844,5.88],[0.848,6.27],[0.852,6.59],[0.856,6.11],[0.861,5.96],[0.865,6.41],[0.869,6.23],[0.873,6.72],[0.878,6.07],[0.882,6.35],[0.886,6.56],[0.891,6.18],[0.895,6.83],[0.899,6.44],[0.904,6.29],[0.908,6.65],[0.913,6.93],[0.917,6.38],[0.922,6.57],[0.927,6.81],[0.931,6.24],[0.936,6.69],[0.941,6.47],[0.946,7.02],[0.951,6.61],[0.957,6.85],[0.962,6.39],[0.968,6.74],[0.974,7.08],[0.979,6.53],[0.985,6.91],[0.991,6.68],[0.997,7.15],
[1.004,6.82],[1.012,6.55],[1.021,7.03],[1.029,6.74],[1.038,7.21],[1.047,6.92],[1.056,6.66],[1.064,7.12],[1.073,6.98],[1.082,7.35],[1.091,7.08],[1.103,7.24],[1.117,7.45],[1.126,7.12],[1.138,7.33],[1.149,7.58],[1.161,7.27],[1.172,7.49],[1.186,7.71],[1.197,7.38],[1.212,7.62],[1.228,7.83],[1.241,7.55],
[1.2,7.98],[1.2,8.5],[1.17,7.85],[1.22,7.8],[1.25,7.12],[1.27,7.57],[1.28,7.85],[0.94,6.25],[0.99,6.35],[1.02,6.56],[1.05,6.67],[1.09,6.78],[1.12,6.92],[1.14,7.0],[1.16,7.2],[1.18,7.49],[1.13,7.2],[0.86,6.2],[0.91,6.2],[0.95,5.92],[0.89,5.9],[0.88,5.7],
[1.3,6.6],[1.4,6.1],[1.4,6.17],[1.31,9.37],[1.36,11.6],[1.42,11.0],[1.46,11.57],[1.5,11.6],[1.58,8.75],[1.57,9.58],[1.59,9.56],[1.63,11.0],[1.65,11.6],[1.56,11.85],[1.53,11.98],[1.7,6.87],[1.7,10.5],
[1.25,7.1],[1.28,7.42],[1.27,7.6],[1.28,7.8],[1.29,8.06],[1.32,7.77],[1.33,7.9],[1.36,7.96],[1.37,8.13],[1.38,8.06],[1.39,8.34],[1.41,7.87],[1.42,8.06],[1.41,8.47],[1.39,8.63],[1.4,8.88],[1.42,8.73],[1.43,8.63],[1.44,8.62],[1.42,8.33],[1.42,9.54],[1.43,9.97],[1.46,9.03],[1.46,10.4],[1.45,9.37],[1.45,9.77],[1.48,9.67],[1.49,9.3],[1.5,9.58],[1.51,8.97],[1.52,9.16],[1.51,9.35],[1.5,10.1],[1.51,10.2],[1.53,10.1],[1.51,10.4],[1.512,10.55],[1.52,10.66],[1.5,10.84],[1.5,11.16],[1.54,10.27],[1.55,10.6],[1.56,10.3],[1.54,10.9],[1.55,11.1],[1.552,11.0],[1.56,11.2],[1.57,10.98],[1.58,11.2],[1.58,11.4],[1.59,11.48],[1.6,11.6],[1.61,11.67],[1.62,11.55],[1.6,11.8],[1.59,11.98],[1.52,11.98]];

// ---- drawing ----
var svg = d3.select("#chart");
var x = d3.scaleLinear().domain([-0.1, 1.7]).range([148, 1125]);
var y = d3.scaleLinear().domain([-3, 12]).range([10, 711]);

var axisColor = "#24318a";
var labelColor = "#0c1a6c";
var dotBlue = "#121a6c";
var dotRed = "#ff3a06";

svg.append("clipPath").attr("id", "plotclip")
  .append("rect").attr("x", 148).attr("y", 10).attr("width", 977).attr("height", 701);

var plot = svg.append("g").attr("clip-path", "url(#plotclip)");

function drawDots(data, r, fill, op) {
  plot.append("g").selectAll("circle")
    .data(data)
    .enter().append("circle")
    .attr("cx", d => x(d[0]))
    .attr("cy", d => y(d[1]))
    .attr("r", r)
    .attr("fill", fill)
    .attr("fill-opacity", op);
}

[blueHot, blueUpperMS, blueTurnoff, blueMidMS, blueLowerMS, blueBandFill, blueRedEnd, blueGiants, blueStray]
  .forEach(arr => drawDots(arr, 2.0, dotBlue, 0.9));
[redCoreWide, redCore, redHalo, redGiants, redTail]
  .forEach(arr => drawDots(arr, 3.8, dotRed, 1));

// axes: box with inward ticks on all four sides
var xMinor = d3.range(-1, 18).map(i => i / 10);
var yMinor = d3.range(-6, 25).map(i => i / 2);

function addAxis(gen, tr, vals, size, fmt, pad) {
  var g = svg.append("g").attr("transform", tr)
    .call(gen.tickValues(vals).tickSize(-size).tickPadding(pad || 3).tickFormat(fmt || ""));
  g.select(".domain").remove();
  g.selectAll(".tick line").attr("stroke", axisColor).attr("stroke-width", 2.6);
  return g;
}

addAxis(d3.axisBottom(x), "translate(0,711)", xMinor, 7);
addAxis(d3.axisTop(x), "translate(0,10)", xMinor, 7);
addAxis(d3.axisTop(x), "translate(0,10)", xMajorTicks, 14);
addAxis(d3.axisLeft(y), "translate(148,0)", yMinor, 10);
addAxis(d3.axisRight(y), "translate(1125,0)", yMinor, 10);
addAxis(d3.axisRight(y), "translate(1125,0)", yMajorTicks, 20);

var gxb = addAxis(d3.axisBottom(x), "translate(0,711)", xMajorTicks, 14, d3.format(".1f"), 29);
var gyl = addAxis(d3.axisLeft(y), "translate(148,0)", yMajorTicks, 20, d3.format("d"), 13);

[gxb, gyl].forEach(g => {
  g.selectAll("text")
    .style("font-family", "'Liberation Sans', Arial, sans-serif")
    .style("font-weight", "bold")
    .style("font-style", "italic")
    .style("font-size", "44px")
    .attr("fill", labelColor)
    .attr("transform", "scale(0.84,1)");
});
// bottom label of the y axis sits a little above its tick
gyl.selectAll(".tick").filter(d => d === 12).select("text").attr("dy", "0.32em").attr("y", -14);

// frame
svg.append("rect")
  .attr("x", 148).attr("y", 10).attr("width", 977).attr("height", 701)
  .attr("fill", "none").attr("stroke", axisColor).attr("stroke-width", 3);

// axis titles
var titleFont = "'Liberation Sans', Arial, sans-serif";
svg.append("text")
  .attr("transform", "translate(632,816) scale(0.84,1)")
  .attr("text-anchor", "middle")
  .style("font-family", titleFont).style("font-weight", "bold").style("font-style", "italic")
  .style("font-size", "44px").attr("fill", labelColor)
  .text("B\u2013V");

var my = svg.append("text")
  .attr("transform", "translate(45,360) rotate(-90) scale(0.84,1)")
  .attr("text-anchor", "middle")
  .style("font-family", titleFont).style("font-weight", "bold").style("font-style", "italic")
  .style("font-size", "44px").attr("fill", labelColor);
my.append("tspan").text("M");
my.append("tspan").attr("dy", 7).style("font-size", "28px").text("V");

// legend
svg.append("rect").attr("x", 697).attr("y", 67).attr("width", 10).attr("height", 9).attr("fill", "#ff5000");
svg.append("text")
  .attr("x", 745).attr("y", 77)
  .attr("textLength", 363).attr("lengthAdjust", "spacingAndGlyphs")
  .style("font-family", "'DejaVu Sans', sans-serif")
  .style("font-size", "42px")
  .attr("fill", "#ff5500")
  .text(legendLabel);
</script>
</body>
</html>
